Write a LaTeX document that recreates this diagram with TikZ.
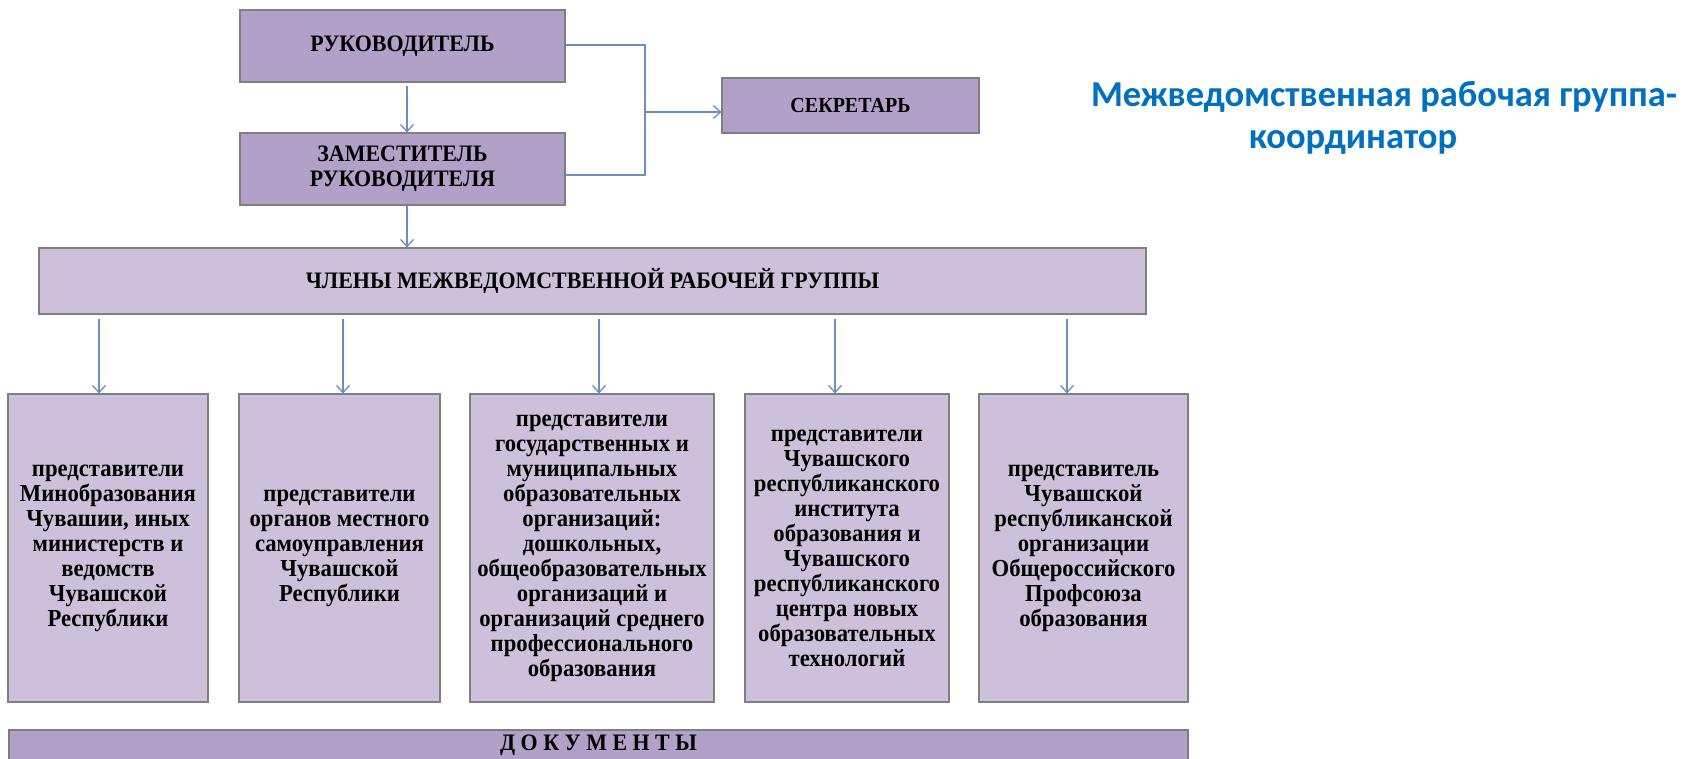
\documentclass[tikz,border=0pt]{standalone}
\usepackage{fontspec}
\setmainfont{Liberation Serif}[FakeStretch=0.93]
\newfontfamily\titlefont{Carlito}
\usetikzlibrary{arrows.meta}
\definecolor{darkpurple}{HTML}{B1A0C7}
\definecolor{lightpurple}{HTML}{CCC0DA}
\definecolor{boxborder}{HTML}{7F7F7F}
\definecolor{connblue}{HTML}{6A8FC0}
\definecolor{titleblue}{HTML}{0070C0}
\begin{document}
\begin{tikzpicture}[x=1pt,y=-1pt,
  box/.style={draw=boxborder, line width=1.2pt, inner sep=0pt, align=center},
  topbox/.style={box, fill=darkpurple, font=\fontsize{23.6}{25}\selectfont\bfseries},
  lowbox/.style={box, fill=lightpurple, font=\fontsize{24.4}{25}\selectfont\bfseries, minimum height=308pt},
  conn/.style={draw=connblue, line width=1.3pt},
  arr/.style={conn, -{Straight Barb[length=7pt,width=13pt]}},
]
\clip (0,0) rectangle (1690,758);
\fill[white] (0,0) rectangle (1690,758);

% top boxes
\node[topbox, minimum width=325pt, minimum height=72pt] (ruk) at (402.5,46) {РУКОВОДИТЕЛЬ};
\node[topbox, minimum width=325pt, minimum height=72pt] (zam) at (402.5,169) {ЗАМЕСТИТЕЛЬ\\РУКОВОДИТЕЛЯ};
\node[topbox, minimum width=257pt, minimum height=55pt, font=\fontsize{21.5}{25}\selectfont\bfseries] (sec) at (850.5,105.5) {СЕКРЕТАРЬ};

% members
\node[box, fill=lightpurple, minimum width=1107pt, minimum height=66pt, font=\fontsize{23.6}{25}\selectfont\bfseries] (mem) at (592.5,281) {ЧЛЕНЫ МЕЖВЕДОМСТВЕННОЙ РАБОЧЕЙ ГРУППЫ};

% lower boxes
\node[lowbox, minimum width=200pt] (b1) at (108,548) {представители\\Минобразования\\Чувашии, иных\\министерств и\\ведомств\\Чувашской\\Республики};
\node[lowbox, minimum width=201pt] (b2) at (339.5,548) {представители\\органов местного\\самоуправления\\Чувашской\\Республики};
\node[lowbox, minimum width=244pt] (b3) at (592,548) {представители\\государственных и\\муниципальных\\образовательных\\организаций:\\дошкольных,\\общеобразовательных\\организаций и\\организаций среднего\\профессионального\\образования};
\node[lowbox, minimum width=204pt] (b4) at (847,548) {представители\\Чувашского\\республиканского\\института\\образования и\\Чувашского\\республиканского\\центра новых\\образовательных\\технологий};
\node[lowbox, minimum width=209pt] (b5) at (1083.5,548) {представитель\\Чувашской\\республиканской\\организации\\Общероссийского\\Профсоюза\\образования};

% documents
\node[topbox, minimum width=1179pt, minimum height=31pt] (docs) at (598.5,745.5) {Д\hspace{5.5pt}О\hspace{5.5pt}К\hspace{5.5pt}У\hspace{5.5pt}М\hspace{5.5pt}Е\hspace{5.5pt}Н\hspace{5.5pt}Т\hspace{5.5pt}Ы};

% title
\node[font=\titlefont\bfseries\fontsize{36.5}{42}\selectfont, text=titleblue, align=center] (title) at (1384,118) {Межведомственная рабочая группа-\\координатор\hspace*{62pt}};

% connectors
\coordinate (j) at (645,112);
\draw[arr] ([xshift=4.5pt]ruk.south) ++(0,3) -- ([xshift=4.5pt]zam.north);
\draw[arr] ([xshift=4.5pt]zam.south) -- ([xshift=4.5pt]zam.south |- mem.north);
\draw[conn] ([yshift=1pt]ruk.east) -| (j) |- ([yshift=-6pt]zam.east);
\draw[arr] (j) -- (sec.west |- j);

\draw[arr] ([xshift=-9pt]b1.north |- mem.south) ++(0,4) -- ([xshift=-9pt]b1.north);
\draw[arr] ([xshift=3.5pt]b2.north |- mem.south) ++(0,4) -- ([xshift=3.5pt]b2.north);
\draw[arr] ([xshift=7pt]b3.north |- mem.south) ++(0,4) -- ([xshift=7pt]b3.north);
\draw[arr] ([xshift=-12pt]b4.north |- mem.south) ++(0,4) -- ([xshift=-12pt]b4.north);
\draw[arr] ([xshift=-16.5pt]b5.north |- mem.south) ++(0,4) -- ([xshift=-16.5pt]b5.north);
\end{tikzpicture}
\end{document}
